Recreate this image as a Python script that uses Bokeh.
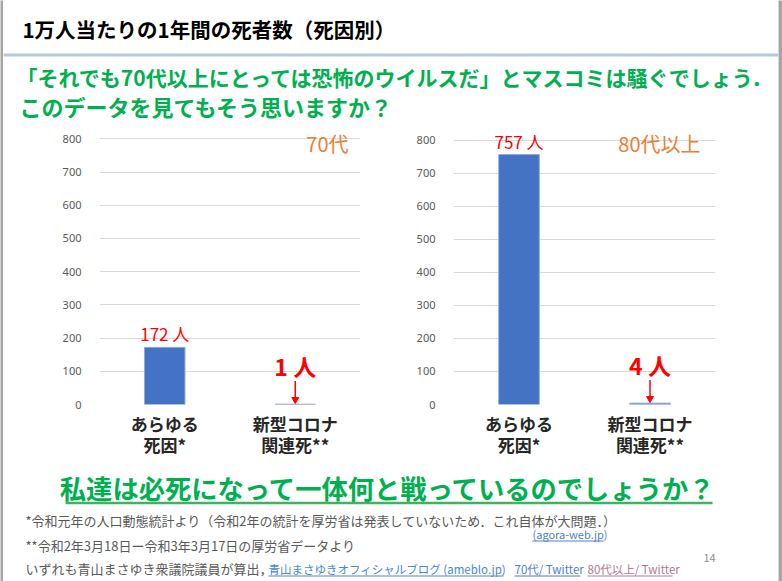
from bokeh.plotting import figure
from bokeh.models import Range1d, FactorRange, ColumnDataSource, FixedTicker
from bokeh.layouts import column, row
from bokeh.embed import file_html
from bokeh.resources import INLINE
from bokeh.core.properties import value

# ---------------- data ----------------
title_text = "1万人当たりの1年間の死者数（死因別）"
subtitle_lines = ["「それでも70代以上にとっては恐怖のウイルスだ」とマスコミは騒ぐでしょう．",
                  "このデータを見てもそう思いますか？"]
categories = ["あらゆる\n死因*", "新型コロナ\n関連死**"]
deaths_70s = [172, 1]
deaths_80s = [757, 4]
panel_labels = ["70代", "80代以上"]
unit = "人"
y_ticks = [0, 100, 200, 300, 400, 500, 600, 700, 800]
question = "私達は必死になって一体何と戦っているのでしょうか？"
footnote1 = "*令和元年の人口動態統計より（令和2年の統計を厚労省は発表していないため．これ自体が大問題．）"
footnote1_link = "(agora-web.jp)"
footnote2 = "**令和2年3月18日ー令和3年3月17日の厚労省データより"
footnote3 = "いずれも青山まさゆき衆議院議員が算出，"
footnote3_links = ["青山まさゆきオフィシャルブログ (ameblo.jp)", "70代/ Twitter", "80代以上/ Twitter"]
page_number = "14"

JP = "Noto Sans CJK JP"
GREEN = "#00b050"
GRAY = "#595959"
RED = "#ff0000"
ORANGE = "#ed7d31"
BAR = "#4472c4"
EDGE = "#a6a6a6"

PAGE_W, PAGE_H = 782, 581
X0, X1 = 3, 778            # slide content between the grey side edges
W = X1 - X0
H_HDR, H_CH, H_FTR = 125, 338, 118


def strip(w):
    p = figure(width=w, height=PAGE_H, toolbar_location=None, output_backend="svg", min_border=0,
               x_axis_location=None, y_axis_location=None, outline_line_color=None,
               background_fill_color=EDGE, border_fill_color=EDGE)
    p.grid.visible = False
    return p


def deco_fig(h, top):
    # ranges in page pixels, y inverted so that it grows downward
    p = figure(width=W, height=h, x_range=Range1d(X0, X1), y_range=Range1d(top + h, top),
               toolbar_location=None, output_backend="svg", min_border=0,
               x_axis_location=None, y_axis_location=None, outline_line_color=None)
    p.grid.visible = False
    return p


def txt(p, x, y, s, size, color, weight="normal", align="left", baseline="middle"):
    p.text(x=[x], y=[y], text=[s], text_font=value(JP), text_font_size=f"{size}px",
           text_color=color, text_font_style=weight, text_align=align, text_baseline=baseline)


# ---------------- header ----------------
hdr = deco_fig(H_HDR, 0)
txt(hdr, 22, 28, title_text, 20.5, "#000000", "bold")
hdr.line(x=[X0, X1], y=[54.5, 54.5], line_width=3, line_color="#b4c7e7")
txt(hdr, 16, 76, subtitle_lines[0], 21, GREEN, "bold")
txt(hdr, 19, 105, subtitle_lines[1], 22, GREEN, "bold")


# ---------------- charts ----------------
def make_chart(vals, label, width, ml, mr, mb, y_end, lab_dx, lab_dy):
    p = figure(width=width, height=H_CH, x_range=FactorRange(*categories), y_range=Range1d(0, y_end),
               toolbar_location=None, output_backend="svg",
               min_border_left=ml, min_border_right=mr, min_border_top=0, min_border_bottom=mb,
               outline_line_color=None)
    p.xgrid.grid_line_color = None
    p.ygrid.grid_line_color = "#d9d9d9"
    p.ygrid.ticker = FixedTicker(ticks=y_ticks)
    p.yaxis.ticker = FixedTicker(ticks=y_ticks)
    p.yaxis.axis_line_color = None
    p.yaxis.major_tick_line_color = None
    p.yaxis.minor_tick_line_color = None
    p.yaxis.major_label_standoff = 12
    p.yaxis.major_label_text_font = "Noto Sans"
    p.yaxis.major_label_text_font_size = "11px"
    p.yaxis.major_label_text_color = GRAY
    p.xaxis.axis_line_color = None
    p.xaxis.major_tick_line_color = None
    p.xaxis.minor_tick_line_color = None
    p.xaxis.major_label_standoff = 0
    p.xaxis.major_label_text_font = JP
    p.xaxis.major_label_text_font_size = "17px"
    p.xaxis.major_label_text_font_style = "bold"
    p.xaxis.major_label_text_color = "#262626"
    p.xaxis.major_label_text_line_height = 0.87

    src = ColumnDataSource(dict(cat=categories, val=vals))
    p.vbar(x="cat", top="val", width=0.31, source=src, fill_color=BAR,
           line_color="#8eaadb", line_width=1)

    big = [(c, v) for c, v in zip(categories, vals) if v >= 50]
    small = [(c, v) for c, v in zip(categories, vals) if v < 50]
    if big:
        p.text(x=[c for c, v in big], y=[v for c, v in big], text=[f"{v} {unit}" for c, v in big],
               text_font=value(JP), text_font_size="17px", text_color=RED,
               text_align="center", text_baseline="bottom", y_offset=-1)
    if small:
        p.text(x=[c for c, v in small], y=[v for c, v in small], text=[f"{v} {unit}" for c, v in small],
               text_font=value(JP), text_font_size="23px", text_font_style="bold", text_color=RED,
               text_align="center", text_baseline="middle", y_offset=-38)
        p.segment(x0=[c for c, v in small], y0=[v + 70 for c, v in small],
                  x1=[c for c, v in small], y1=[v + 18 for c, v in small],
                  line_color=RED, line_width=1.5)
        p.scatter(x=[c for c, v in small], y=[v + 14 for c, v in small], marker="inverted_triangle",
                  size=7, fill_color=RED, line_color=RED)
    p.text(x=[len(categories)], y=[y_ticks[-1]], text=[label], text_font=value(JP), text_font_size="20px",
           text_color=ORANGE, text_align="right", text_baseline="middle",
           x_offset=lab_dx, y_offset=lab_dy)
    return p


c1 = make_chart(deaths_70s, panel_labels[0], 390 - X0, 99 - X0, 30, 59, 840, -12, 5)
c2 = make_chart(deaths_80s, panel_labels[1], X1 - 390, 63, X1 - 715, 58, 845, -15, 3)

# ---------------- footer ----------------
T0 = H_HDR + H_CH
ftr = deco_fig(H_FTR, T0)
txt(ftr, 388, 487, question, 26.3, GREEN, "bold", align="center")
ftr.line(x=[65, 712], y=[502.5, 502.5], line_width=2.5, line_color="#3cb55e")
txt(ftr, 25, 520, footnote1, 13, GRAY)
txt(ftr, 532, 533, footnote1_link, 11, "#4f81c7")
ftr.line(x=[532, 603], y=[540.5, 540.5], line_width=1, line_color="#4f81c7")
txt(ftr, 25, 545, footnote2, 13, GRAY)
txt(ftr, 25, 568, footnote3, 13, GRAY)
link_x = [268, 514, 587]
link_end = [503, 580, 672]
link_col = ["#4a86d4", "#4f7fcf", "#b07a95"]
for s, x0, x1, col in zip(footnote3_links, link_x, link_end, link_col):
    txt(ftr, x0, 568, s, 11.5, col)
    ftr.line(x=[x0, x1], y=[575.5, 575.5], line_width=1, line_color=col)
txt(ftr, 703, 557, page_number, 11, "#8c8c8c")

layout = row(strip(X0), column(hdr, row(c1, c2), ftr), strip(PAGE_W - X1))
open("out.html", "w").write(file_html(layout, INLINE))
